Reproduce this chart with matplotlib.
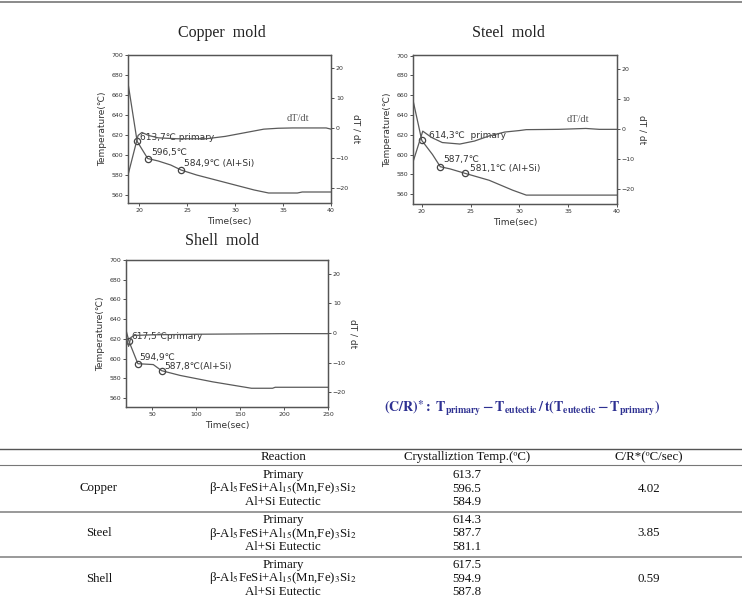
import matplotlib
matplotlib.use('Agg')
import matplotlib.pyplot as plt
from matplotlib.lines import Line2D

plt.rcParams['mathtext.fontset'] = 'stix'
plt.rcParams['font.family'] = ['DejaVu Sans']

# ---------------- data ----------------
# Copper mold
cu_time = [18.85, 19.8, 20.9, 22.0, 23.3, 24.4, 26.0, 28.0, 30.0, 32.0, 33.5, 36.5, 37.0, 40.0]
cu_temp = [672, 613.7, 596.5, 594, 590, 584.9, 580, 575, 570, 565, 562, 562, 563, 563]
cu_rate_time = [18.85, 19.9, 20.3, 21.0, 22.0, 24.0, 27.0, 29.0, 31.0, 33.0, 34.5, 36.0, 39.5, 40.0]
cu_rate = [-15.7, -2.5, -1.5, -2.5, -3.3, -3.6, -3.6, -2.8, -1.6, -0.4, -0.1, 0.0, 0.0, -0.4]
cu_mark_time = [19.8, 20.9, 24.4]
cu_mark_temp = [613.7, 596.5, 584.9]
cu_labels = ["613,7\u2103 primary", "596,5\u2103", "584,9\u2103 (Al+Si)"]

# Steel mold
st_time = [19.1, 20.0, 21.1, 21.9, 22.9, 24.4, 26.9, 29.3, 30.7, 40.0]
st_temp = [655, 614.3, 600, 587.7, 585.5, 581.1, 574, 564, 559, 559]
st_rate_time = [19.1, 20.1, 21.0, 22.1, 23.9, 25.4, 26.9, 28.5, 30.0, 30.7, 34.0, 36.8, 38.2, 40.0]
st_rate = [-11, -0.7, -2.8, -4.5, -5.0, -4.0, -2.3, -1.0, -0.5, -0.2, -0.1, 0.2, -0.1, -0.1]
st_mark_time = [20.0, 21.9, 24.4]
st_mark_temp = [614.3, 587.7, 581.1]
st_labels = ["614,3\u2103  primary", "587,7\u2103", "581,1\u2103 (Al+Si)"]

# Shell mold
sh_time = [20.5, 23.9, 34.0, 51.5, 61.0, 82, 119, 163, 187, 190, 250]
sh_temp = [629, 617.5, 594.9, 594, 587.8, 583, 576.5, 570, 570, 571, 571]
sh_rate_time = [20.5, 23.4, 26, 30, 50, 100, 150, 200, 250]
sh_rate = [-1, -4.5, -1.5, -0.8, -0.6, -0.4, -0.3, -0.2, -0.2]
sh_mark_time = [23.9, 34.0, 61.0]
sh_mark_temp = [617.5, 594.9, 587.8]
sh_labels = ["617,5\u2103primary", "594,9\u2103", "587,8\u2103(Al+Si)"]

temp_ticks = [560, 580, 600, 620, 640, 660, 680, 700]
rate_ticks = [-20, -10, 0, 10, 20]
short_time_ticks = [20, 25, 30, 35, 40]
long_time_ticks = [50, 100, 150, 200, 250]

# table data
molds = ["Copper", "Steel", "Shell"]
reactions = ["Primary",
             "\u03b2-Al$_5$FeSi+Al$_{15}$(Mn,Fe)$_3$Si$_2$",
             "Al+Si Eutectic"]
cryst_temps = [["613.7", "596.5", "584.9"],
               ["614.3", "587.7", "581.1"],
               ["617.5", "594.9", "587.8"]]
cr_values = ["4.02", "3.85", "0.59"]
header = ["Reaction", "Crystalliztion Temp.(\u00baC)", "C/R*(\u00baC/sec)"]

W, H = 742, 602
fig = plt.figure(figsize=(W / 100, H / 100), dpi=100)

def fx(x):
    return x / W

def fy(y):
    return 1 - y / H

LC = '#5a5a5a'
SC = '#555555'
TC = '#333333'


def make_panel(rect, xlim, ylim, rlim, xticks, t, T, rt, r, mt, mT, labels,
               offsets, dtlabel=None):
    ax = fig.add_axes(rect)
    ax.plot(t, T, color=LC, lw=0.9)
    ax.plot(mt, mT, 'o', mfc='none', mec='#444444', ms=4.5, mew=0.9)
    for xv, yv, lab, off in zip(mt, mT, labels, offsets):
        ax.annotate(lab, (xv, yv), xytext=off, textcoords='offset pixels',
                    fontsize=6.5, color=TC, va='center', ha='left')
    ax.set_xlim(*xlim)
    ax.set_ylim(*ylim)
    ax.set_xticks(xticks)
    ax.set_yticks(temp_ticks)
    ax.tick_params(labelsize=4.5, length=2, width=0.6, colors=TC, pad=1.5)
    for s in ax.spines.values():
        s.set_color(SC)
        s.set_linewidth(0.9)
    ax.set_ylabel("Temperature(\u2103)", fontsize=6.5, color=TC, labelpad=3)
    ax.set_xlabel("Time(sec)", fontsize=6.5, color=TC, labelpad=3)
    ax2 = ax.twinx()
    ax2.plot(rt, r, color=LC, lw=0.9)
    ax2.set_ylim(*rlim)
    ax2.set_yticks(rate_ticks)
    ax2.tick_params(labelsize=4.5, length=2, width=0.6, colors=TC, pad=1.5)
    for s in ax2.spines.values():
        s.set_color(SC)
        s.set_linewidth(0.9)
    ax2.set_ylabel("dT / dt", fontsize=6.5, color=TC, rotation=270, labelpad=8)
    if dtlabel is not None:
        ax2.text(dtlabel[0], dtlabel[1], "dT/dt", fontsize=7.5, color='#555555',
                 family='Liberation Serif', ha='left', va='center')
    return ax, ax2


# Copper panel
make_panel([fx(128), fy(203), fx(331) - fx(128), fy(55) - fy(203)],
           (18.85, 40), (552, 700), (-25, 24.3), short_time_ticks,
           cu_time, cu_temp, cu_rate_time, cu_rate, cu_mark_time, cu_mark_temp,
           cu_labels, [(3, 4), (4, 6), (3, 7)], dtlabel=(35.4, 3.3))

# Steel panel
make_panel([fx(413), fy(204), fx(617) - fx(413), fy(55) - fy(204)],
           (19.1, 40), (550, 700.7), (-25, 24.7), short_time_ticks,
           st_time, st_temp, st_rate_time, st_rate, st_mark_time, st_mark_temp,
           st_labels, [(7, 5), (3, 7.5), (5, 5)], dtlabel=(34.8, 3.3))

# Shell panel
make_panel([fx(126), fy(407), fx(328) - fx(126), fy(260) - fy(407)],
           (20.5, 250), (551, 700), (-25, 24.7), long_time_ticks,
           sh_time, sh_temp, sh_rate_time, sh_rate, sh_mark_time, sh_mark_temp,
           sh_labels, [(2, 5), (1, 6), (3, 4)])

# titles
title_font = dict(fontsize=11.5, color='#222222', family='Liberation Serif',
                  ha='center', va='center')
fig.text(fx(222), fy(33), "Copper  mold", **title_font)
fig.text(fx(508), fy(33), "Steel  mold", **title_font)
fig.text(fx(222), fy(241), "Shell  mold", **title_font)

# equation
eq = r"$\mathbf{(C/R)^{\ast}:\ T_{primary}-T_{eutectic}\,/\,t(T_{eutectic}-T_{primary})}$"
fig.text(fx(522), fy(409), eq, fontsize=10, color='#2e3192',
         ha='center', va='center')

# rules
def hline(y, color='#666666', lw=1.0):
    fig.add_artist(Line2D([0, 1], [fy(y), fy(y)], transform=fig.transFigure,
                          color=color, lw=lw))

hline(2, '#777777', 1.2)
hline(449, '#555555', 1.0)
hline(465, '#777777', 0.8)
hline(512, '#888888', 1.2)
hline(557, '#888888', 1.2)

tab_font = dict(fontsize=9.3, color='#111111', family='Liberation Serif',
                ha='center', va='center')
col_x = [99, 283, 467, 649]
fig.text(fx(col_x[1]), fy(457), header[0], **tab_font)
fig.text(fx(col_x[2]), fy(457), header[1], **tab_font)
fig.text(fx(col_x[3]), fy(457), header[2], **tab_font)

row_centers = [488.5, 533.5, 578.5]
for i, mold in enumerate(molds):
    yc = row_centers[i]
    fig.text(fx(col_x[0]), fy(yc), mold, **tab_font)
    fig.text(fx(col_x[3]), fy(yc), cr_values[i], **tab_font)
    for j in range(3):
        yy = yc + (j - 1) * 13.6
        fig.text(fx(col_x[1]), fy(yy), reactions[j], **tab_font)
        fig.text(fx(col_x[2]), fy(yy), cryst_temps[i][j], **tab_font)

fig.savefig("out.png", dpi=100)
